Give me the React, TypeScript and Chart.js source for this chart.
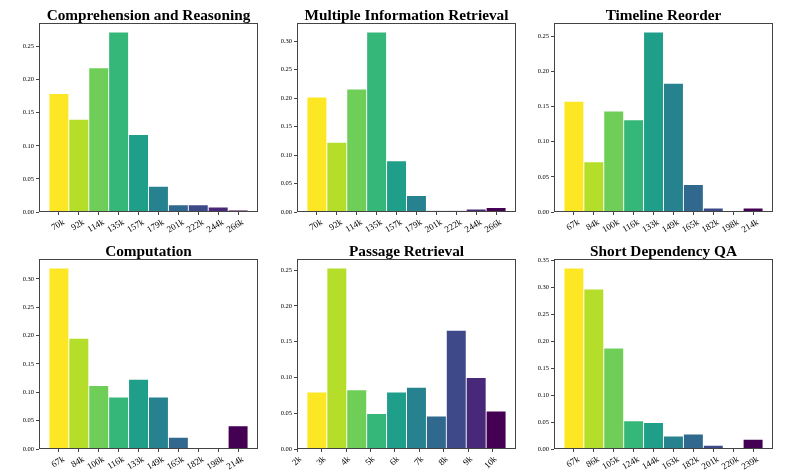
import React, { useEffect, useRef } from "react";
import { Chart, registerables } from "chart.js";

Chart.register(...registerables);

// ---------- data ----------
const viridisReversed = [
  "#fde725", "#b5de2b", "#6ece58", "#35b779", "#1f9e89",
  "#26828e", "#31688e", "#3e4989", "#482878", "#440154",
];

const comprehensionLabels = ["70k", "92k", "114k", "135k", "157k", "179k", "201k", "222k", "244k", "266k"];
const comprehensionValues = [0.179, 0.140, 0.218, 0.272, 0.117, 0.039, 0.011, 0.011, 0.0075, 0.003];

const multiInfoLabels = ["70k", "92k", "114k", "135k", "157k", "179k", "201k", "222k", "244k", "266k"];
const multiInfoValues = [0.202, 0.1225, 0.216, 0.316, 0.090, 0.029, 0.002, 0.002, 0.005, 0.008];

const timelineLabels = ["67k", "84k", "100k", "116k", "133k", "149k", "165k", "182k", "198k", "214k"];
const timelineValues = [0.1575, 0.0716, 0.1437, 0.131, 0.256, 0.183, 0.039, 0.0057, 0, 0.0057];

const computationLabels = ["67k", "84k", "100k", "116k", "133k", "149k", "165k", "182k", "198k", "214k"];
const computationValues = [0.319, 0.195, 0.112, 0.0916, 0.123, 0.0916, 0.0207, 0, 0, 0.0408];

const passageTickValues = [2000, 3000, 4000, 5000, 6000, 7000, 8000, 9000, 10000];
const passageTickLabels = ["2k", "3k", "4k", "5k", "6k", "7k", "8k", "9k", "10k"];
const passageBinStart = 2400;
const passageBinWidth = 815;
const passageValues = [0.0796, 0.2528, 0.0829, 0.0496, 0.0796, 0.0861, 0.0459, 0.166, 0.0997, 0.0529];

const shortQALabels = ["67k", "86k", "105k", "124k", "144k", "163k", "182k", "201k", "220k", "239k"];
const shortQAValues = [0.336, 0.297, 0.1875, 0.0523, 0.0492, 0.0243, 0.028, 0.0069, 0, 0.018];

// ---------- panel definitions ----------
type Panel = {
  title: string;
  xs: number[];
  values: number[];
  xMin: number;
  xMax: number;
  ticks: number[];
  tickLabels: string[];
  rotation: number;
  labelOffset: number;
};

function indexPanel(title: string, labels: string[], values: number[]): Panel {
  const idx = labels.map((_, i) => i);
  return {
    title,
    xs: idx,
    values,
    xMin: -1,
    xMax: labels.length,
    ticks: idx,
    tickLabels: labels,
    rotation: 30,
    labelOffset: 5,
  };
}

const passagePanel: Panel = {
  title: "Passage Retrieval",
  xs: passageValues.map((_, i) => passageBinStart + (i + 0.5) * passageBinWidth),
  values: passageValues,
  xMin: passageBinStart - 0.5 * passageBinWidth,
  xMax: passageBinStart + (passageValues.length + 0.5) * passageBinWidth,
  ticks: passageTickValues,
  tickLabels: passageTickLabels,
  rotation: 45,
  labelOffset: 3,
};

const panels: Panel[] = [
  indexPanel("Comprehension and Reasoning", comprehensionLabels, comprehensionValues),
  indexPanel("Multiple Information Retrieval", multiInfoLabels, multiInfoValues),
  indexPanel("Timeline Reorder", timelineLabels, timelineValues),
  indexPanel("Computation", computationLabels, computationValues),
  passagePanel,
  indexPanel("Short Dependency QA", shortQALabels, shortQAValues),
];

// ---------- layout ----------
const COL_LEFTS = [39, 297, 554];
const ROW_TOPS = [23, 259];
const ROW_HEIGHTS = [189, 190];
const AX_W = 219;
const PAD_L = 38;
const PAD_R = 8;
const PAD_T = 30;
const PAD_B = 40;
const TITLE_SIZE = 15.3;
const TITLE_BOX = 14;
const FRAME_COLOR = "#444";
const SERIF = "'Liberation Serif', 'Times New Roman', serif";

const framePlugin = {
  id: "frame",
  afterDraw(chart: any) {
    const { ctx, chartArea } = chart;
    const { left, top, right, bottom } = chartArea;
    ctx.save();
    ctx.strokeStyle = FRAME_COLOR;
    ctx.lineWidth = 1;
    ctx.strokeRect(left + 0.5, top + 0.5, right - left - 1, bottom - top - 1);
    ctx.restore();
  },
};

function HistPanel({ panel, left, top, width, height }: { panel: Panel; left: number; top: number; width: number; height: number }) {
  const ref = useRef<HTMLCanvasElement>(null);

  useEffect(() => {
    if (!ref.current) return;
    const yMax = 1.05 * Math.max(...panel.values);
    const chart = new Chart(ref.current, {
      type: "bar",
      data: {
        datasets: [
          {
            data: panel.xs.map((x, i) => ({ x, y: panel.values[i] })),
            backgroundColor: viridisReversed,
            borderColor: "rgba(255,255,255,0.22)",
            borderWidth: 0.8,
            barPercentage: 1,
            categoryPercentage: 1,
          } as any,
        ],
      },
      options: {
        animation: false,
        responsive: true,
        maintainAspectRatio: false,
        layout: { padding: { top: PAD_T - TITLE_BOX, right: PAD_R, left: 0, bottom: 0 } },
        plugins: {
          legend: { display: false },
          tooltip: { enabled: false },
          title: {
            display: true,
            text: panel.title,
            fullSize: false,
            color: "#000",
            font: { family: SERIF, size: TITLE_SIZE, weight: "bold", lineHeight: TITLE_BOX / TITLE_SIZE },
            padding: 0,
          },
        },
        scales: {
          x: {
            type: "linear",
            min: panel.xMin,
            max: panel.xMax,
            offset: false,
            grid: {
              offset: false,
              drawOnChartArea: false,
              drawTicks: true,
              tickLength: 3,
              color: FRAME_COLOR,
              lineWidth: 1,
            },
            border: { display: false },
            ticks: {
              autoSkip: false,
              minRotation: panel.rotation,
              maxRotation: panel.rotation,
              labelOffset: panel.labelOffset,
              padding: 2,
              color: "#000",
              font: { family: SERIF, size: 9 },
              callback: (_v: any, i: number) => panel.tickLabels[i],
            },
            afterBuildTicks: (s: any) => {
              s.ticks = panel.ticks.map((value) => ({ value }));
            },
            afterFit: (s: any) => {
              s.height = PAD_B;
              s.paddingLeft = 0;
              s.paddingRight = 0;
            },
          } as any,
          y: {
            type: "linear",
            min: 0,
            max: yMax,
            grid: {
              drawOnChartArea: false,
              drawTicks: true,
              tickLength: 3,
              color: FRAME_COLOR,
              lineWidth: 1,
            },
            border: { display: false },
            ticks: {
              stepSize: 0.05,
              includeBounds: false,
              padding: 2,
              color: "#000",
              font: { family: SERIF, size: 6.5 },
              callback: (v: any) => Number(v).toFixed(2),
            },
            afterFit: (s: any) => {
              s.width = PAD_L;
              s.paddingTop = 0;
              s.paddingBottom = 0;
            },
          } as any,
        },
      },
      plugins: [framePlugin],
    });
    return () => chart.destroy();
  }, [panel]);

  return (
    <div
      style={{
        position: "absolute",
        left: left - PAD_L,
        top: top - PAD_T,
        width: width + PAD_L + PAD_R,
        height: height + PAD_T + PAD_B,
      }}
    >
      <canvas ref={ref} />
    </div>
  );
}

export default function App() {
  return (
    <div
      style={{
        position: "absolute",
        left: 0,
        top: 0,
        width: 789,
        height: 473,
        background: "#fff",
        overflow: "hidden",
      }}
    >
      {panels.map((p, i) => {
        const row = Math.floor(i / 3);
        const col = i % 3;
        return (
          <HistPanel
            key={p.title}
            panel={p}
            left={COL_LEFTS[col]}
            top={ROW_TOPS[row]}
            width={AX_W}
            height={ROW_HEIGHTS[row]}
          />
        );
      })}
    </div>
  );
}
